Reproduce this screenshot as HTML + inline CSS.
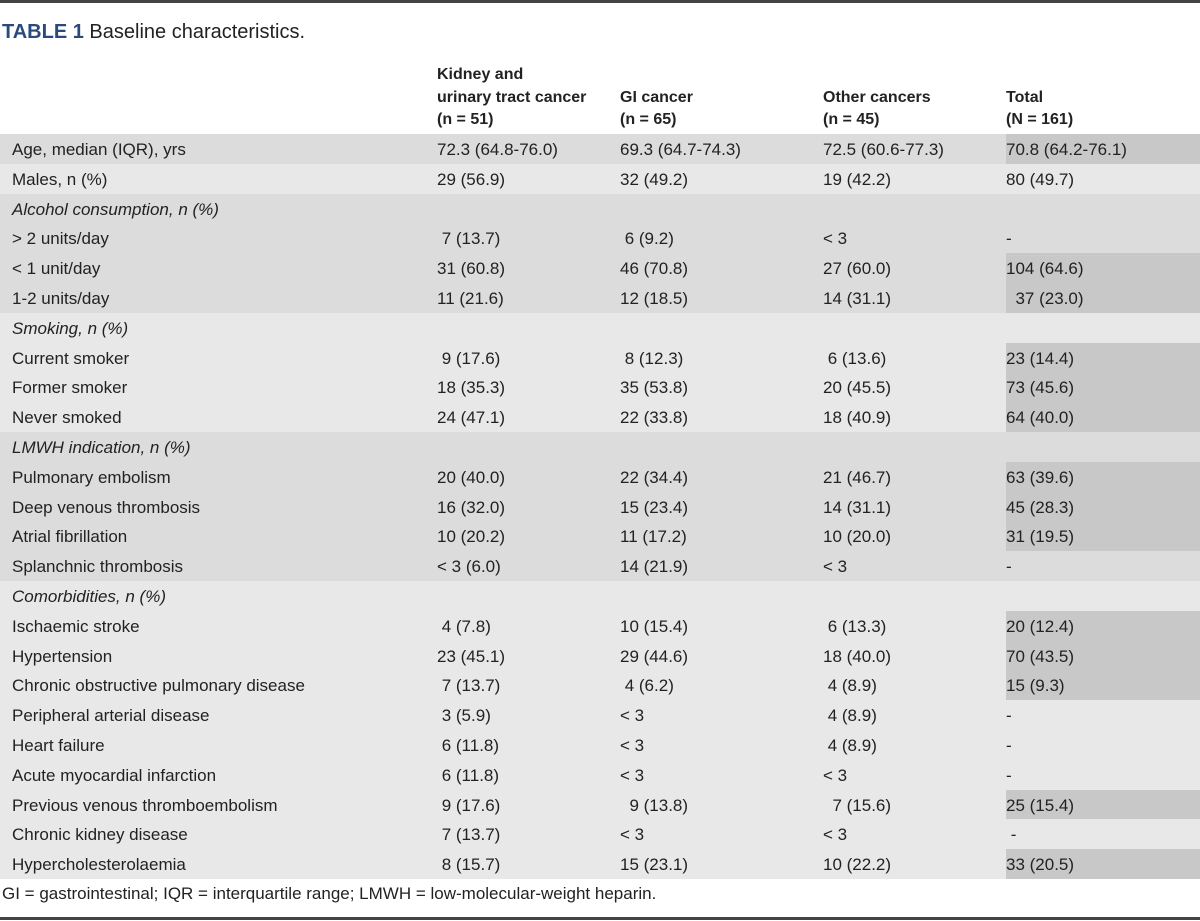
<!DOCTYPE html>
<html><head><meta charset="utf-8"><style>
body{margin:0;width:1200px;height:921px;background:#fff;position:relative;overflow:hidden;font-family:"Liberation Sans",Arial,sans-serif;color:#222;font-size:17px}
.topline{position:absolute;left:0;top:0;width:1200px;height:3px;background:#444}
.botline{position:absolute;left:0;top:917px;width:1200px;height:3px;background:#444}
.title{position:absolute;left:2px;top:21px;font-size:20px}
.title b{color:#2b4a7c}
.h{position:absolute;top:64px;font-weight:bold;line-height:22.5px;font-size:16px}
.r{position:absolute;left:0;width:1200px;height:30px;line-height:31px}
.r span{position:absolute;white-space:pre}
.d{background:#dcdcdc}.l{background:#e8e8e8}
.hl{position:absolute;left:1006px;width:194px;top:0;height:100%;background:#c8c8c8}
.c0{left:12px}.c1{left:437px}.c2{left:620px}.c3{left:823px}.c4{left:1006px}
.foot{position:absolute;left:2px;top:884px;font-size:17px}
</style></head><body>
<div class="topline"></div>
<div class="title"><b>TABLE 1</b> Baseline characteristics.</div>
<div class="h" style="left:437px">Kidney and<br>urinary tract cancer<br>(n = 51)</div>
<div class="h" style="left:620px"><br>GI cancer<br>(n = 65)</div>
<div class="h" style="left:823px"><br>Other cancers<br>(n = 45)</div>
<div class="h" style="left:1006px"><br>Total<br>(N = 161)</div>
<div id="rows"></div>
<div class="foot">GI = gastrointestinal; IQR = interquartile range; LMWH = low-molecular-weight heparin.</div>
<div class="botline"></div>
<script>
var R=[
["d",1,"Age, median (IQR), yrs","72.3 (64.8-76.0)","69.3 (64.7-74.3)","72.5 (60.6-77.3)","70.8 (64.2-76.1)"],
["l",0,"Males, n (%)","29 (56.9)","32 (49.2)","19 (42.2)","80 (49.7)"],
["d",0,"<i>Alcohol consumption, n (%)</i>","","","",""],
["d",0,"> 2 units/day"," 7 (13.7)"," 6 (9.2)","< 3","-"],
["d",1,"< 1 unit/day","31 (60.8)","46 (70.8)","27 (60.0)","104 (64.6)"],
["d",1,"1-2 units/day","11 (21.6)","12 (18.5)","14 (31.1)","  37 (23.0)"],
["l",0,"<i>Smoking, n (%)</i>","","","",""],
["l",1,"Current smoker"," 9 (17.6)"," 8 (12.3)"," 6 (13.6)","23 (14.4)"],
["l",1,"Former smoker","18 (35.3)","35 (53.8)","20 (45.5)","73 (45.6)"],
["l",1,"Never smoked","24 (47.1)","22 (33.8)","18 (40.9)","64 (40.0)"],
["d",0,"<i>LMWH indication, n (%)</i>","","","",""],
["d",1,"Pulmonary embolism","20 (40.0)","22 (34.4)","21 (46.7)","63 (39.6)"],
["d",1,"Deep venous thrombosis","16 (32.0)","15 (23.4)","14 (31.1)","45 (28.3)"],
["d",1,"Atrial fibrillation","10 (20.2)","11 (17.2)","10 (20.0)","31 (19.5)"],
["d",0,"Splanchnic thrombosis","< 3 (6.0)","14 (21.9)","< 3","-"],
["l",0,"<i>Comorbidities, n (%)</i>","","","",""],
["l",1,"Ischaemic stroke"," 4 (7.8)","10 (15.4)"," 6 (13.3)","20 (12.4)"],
["l",1,"Hypertension","23 (45.1)","29 (44.6)","18 (40.0)","70 (43.5)"],
["l",1,"Chronic obstructive pulmonary disease"," 7 (13.7)"," 4 (6.2)"," 4 (8.9)","15 (9.3)"],
["l",0,"Peripheral arterial disease"," 3 (5.9)","< 3"," 4 (8.9)","-"],
["l",0,"Heart failure"," 6 (11.8)","< 3"," 4 (8.9)","-"],
["l",0,"Acute myocardial infarction"," 6 (11.8)","< 3","< 3","-"],
["l",1,"Previous venous thromboembolism"," 9 (17.6)","  9 (13.8)","  7 (15.6)","25 (15.4)"],
["l",0,"Chronic kidney disease"," 7 (13.7)","< 3","< 3"," -"],
["l",1,"Hypercholesterolaemia"," 8 (15.7)","15 (23.1)","10 (22.2)","33 (20.5)"]];
var h="";
R.forEach(function(r,i){
 var t=(134+i*29.8).toFixed(1);
 h+='<div class="r '+r[0]+'" style="top:'+t+'px">'+(r[1]?'<div class="hl"></div>':'')+
 '<span class="c0">'+r[2]+'</span><span class="c1">'+r[3].replace(/</g,'&lt;')+'</span><span class="c2">'+r[4].replace(/</g,'&lt;')+'</span><span class="c3">'+r[5].replace(/</g,'&lt;')+'</span><span class="c4">'+r[6]+'</span></div>';
});
document.getElementById("rows").innerHTML=h;
</script>
</body></html>
